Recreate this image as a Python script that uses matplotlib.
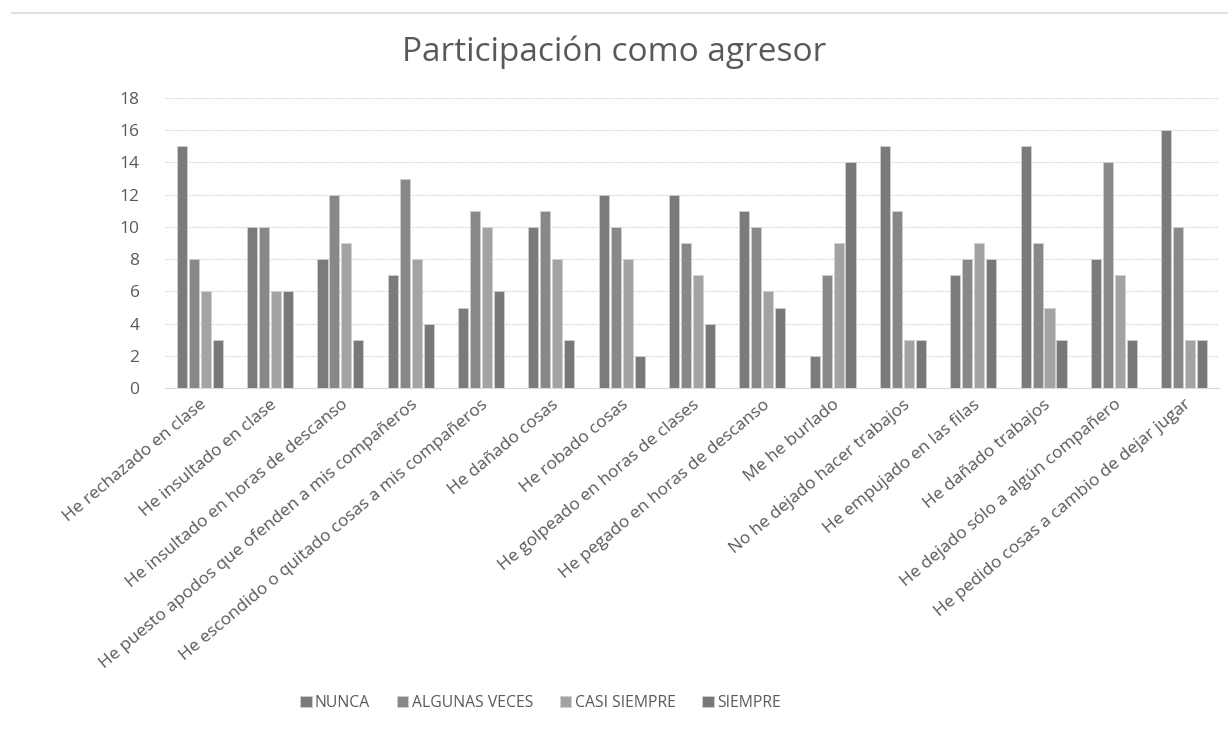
import numpy as np
import matplotlib
matplotlib.use("Agg")
import matplotlib.pyplot as plt

categorias = [
    "He rechazado en clase",
    "He insultado en clase",
    "He insultado en horas de descanso",
    "He puesto apodos que ofenden a mis compañeros",
    "He escondido o quitado cosas a mis compañeros",
    "He dañado cosas",
    "He robado cosas",
    "He golpeado en horas de clases",
    "He pegado en horas de descanso",
    "Me he burlado",
    "No he dejado hacer trabajos",
    "He empujado en las filas",
    "He dañado trabajos",
    "He dejado sólo a algún compañero",
    "He pedido cosas a cambio de dejar jugar",
]
nunca = [15, 10, 8, 7, 5, 10, 12, 12, 11, 2, 15, 7, 15, 8, 16]
algunas = [8, 10, 12, 13, 11, 11, 10, 9, 10, 7, 11, 8, 9, 14, 10]
casi = [6, 6, 9, 8, 10, 8, 8, 7, 6, 9, 3, 9, 5, 7, 3]
siempre = [3, 6, 3, 4, 6, 3, 2, 4, 5, 14, 3, 8, 3, 3, 3]

series = [("NUNCA", nunca, "#7b7b7b"),
          ("ALGUNAS VECES", algunas, "#888888"),
          ("CASI SIEMPRE", casi, "#a3a3a3"),
          ("SIEMPRE", siempre, "#787878")]

plt.rcParams["font.family"] = ["Open Sans", "DejaVu Sans"]
gris = "#595959"

fig = plt.figure(figsize=(12.28, 7.31), dpi=100)
ax = fig.add_axes([0.134, 0.469, 0.859, 0.397])

x = np.arange(len(categorias))
slot = 0.17
for i, (nombre, vals, color) in enumerate(series):
    ax.bar(x + (i - 1.5) * slot, vals, width=slot * 0.85, color=color,
           edgecolor="#d0d0d0", linewidth=0.6, label=nombre, zorder=3)

ax.set_xlim(-0.5, len(categorias) - 0.5)
ax.set_ylim(0, 18)
ax.set_yticks(range(0, 19, 2))
ax.yaxis.grid(True, color="#d9d9d9", linewidth=0.8, linestyle=(0, (2, 1)), zorder=0)
for s in ["top", "right", "left"]:
    ax.spines[s].set_visible(False)
ax.spines["bottom"].set_color("#d9d9d9")
ax.tick_params(axis="both", length=0, colors=gris)
ax.tick_params(axis="y", pad=18, labelsize=12.5)
ax.tick_params(axis="x", pad=6)
ax.set_xticks(x)
ax.set_xticklabels(categorias, rotation=40, ha="right", rotation_mode="anchor",
                   fontsize=12.5, color=gris)

fig.text(0.5, 0.928, "Participación como agresor", ha="center", va="center",
         fontsize=24, color=gris)

fig.legend(loc="center", bbox_to_anchor=(0.44, 0.038), ncol=4, frameon=False,
           fontsize=11.3, handlelength=0.75, handleheight=0.75, columnspacing=1.7,
           handletextpad=0.2, labelcolor=gris)

fig.add_artist(plt.Line2D([0.01, 1.0], [0.982, 0.982], color="#e0e0e0", linewidth=1.5))

fig.savefig("out.png", dpi=100)
